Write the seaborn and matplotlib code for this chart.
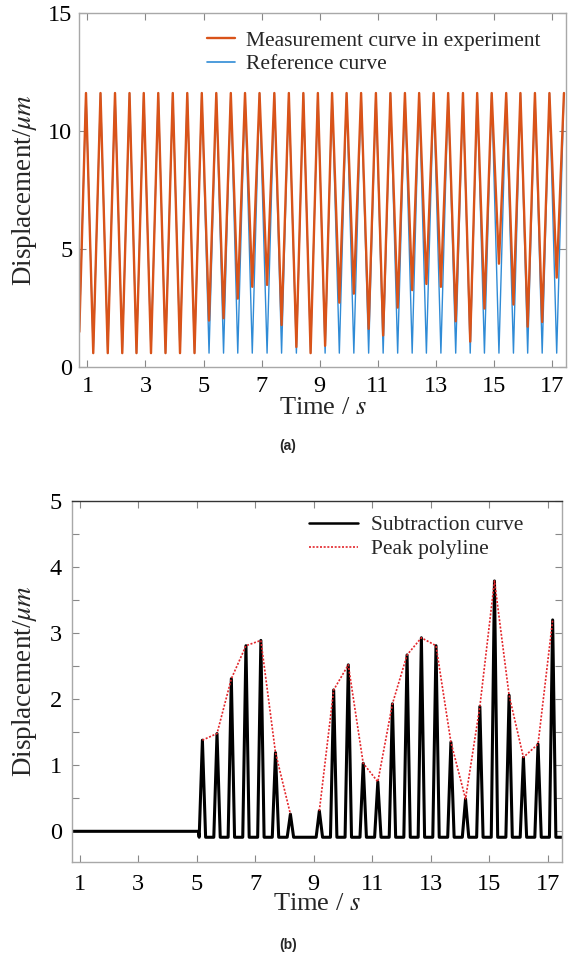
import numpy as np
import pandas as pd
import matplotlib
matplotlib.use("Agg")
import matplotlib.pyplot as plt
import seaborn as sns
from matplotlib.lines import Line2D
from matplotlib.ticker import MultipleLocator

# ---------------- data ----------------
trough_times = [1.20, 1.70, 2.20, 2.69, 3.19, 3.69, 4.19, 4.69, 5.19, 5.69, 6.18,
                6.68, 7.19, 7.69, 8.20, 8.69, 9.19, 9.68, 10.18, 10.69, 11.19, 11.69,
                12.19, 12.68, 13.18, 13.69, 14.19, 14.68, 15.18, 15.68, 16.17, 16.67, 17.17]
peak_times = [0.95, 1.45, 1.95, 2.45, 2.94, 3.44, 3.94, 4.44, 4.94, 5.44, 5.94, 6.43,
              6.93, 7.44, 7.94, 8.44, 8.94, 9.43, 9.93, 10.43, 10.94, 11.44, 11.94,
              12.43, 12.93, 13.43, 13.94, 14.43, 14.93, 15.43, 15.92, 16.42, 16.92, 17.42]
peak_level = 11.62
ref_trough_level = 0.60
start_time, start_level = 0.72, 1.50

# subtraction peaks (measurement trough - reference trough), one per trough
sub_peaks = [0, 0, 0, 0, 0, 0, 0, 0,
             1.38, 1.48, 2.31, 2.81, 2.89, 1.19, 0.26, 0.0, 0.31, 2.14, 2.52,
             1.03, 0.75, 1.93, 2.67, 2.93, 2.81, 1.35, 0.49, 1.89, 3.79, 2.06,
             1.12, 1.32, 3.20]
# peak polyline segments (indices into trough list)
poly_seg1 = list(range(8, 15))
poly_seg2 = list(range(16, 33))
quiet_end = 5.05
spike_halfwidth = 0.11
spike_base = -0.09

# ---------------- build curves ----------------
def build(trough_vals):
    xs, ys = [start_time], [start_level]
    for i, t in enumerate(trough_times):
        xs += [peak_times[i], t]
        ys += [peak_level, trough_vals[i]]
    xs.append(peak_times[-1]); ys.append(peak_level)
    return xs, ys

ref_x, ref_y = build([ref_trough_level] * len(trough_times))
meas_x, meas_y = build([ref_trough_level + h for h in sub_peaks])

sub_x, sub_y = [start_time, quiet_end], [0.0, 0.0]
for t, h in zip(trough_times, sub_peaks):
    if t > quiet_end and h > 0:
        sub_x += [t - spike_halfwidth, t, t + spike_halfwidth]
        sub_y += [spike_base, h, spike_base]
sub_x.append(17.48); sub_y.append(spike_base)

poly_df = pd.DataFrame({
    "t": [trough_times[i] for i in poly_seg1] + [trough_times[i] for i in poly_seg2],
    "v": [sub_peaks[i] for i in poly_seg1] + [sub_peaks[i] for i in poly_seg2],
    "seg": [1] * len(poly_seg1) + [2] * len(poly_seg2),
})

# ---------------- style ----------------
sns.set_style("ticks")
plt.rcParams["font.family"] = ["Liberation Serif", "DejaVu Serif"]
plt.rcParams["mathtext.fontset"] = "stix"

ORANGE = "#D95319"
BLUE = "#2F8BD6"
RED = "#E3262B"
SPINE = "#A8A8A8"

fig = plt.figure(figsize=(5.76, 9.6), dpi=100)
ax1 = fig.add_axes([0.1377, 0.6174, 0.8444, 0.3688])
ax2 = fig.add_axes([0.1245, 0.1024, 0.8507, 0.3757])

# ---- panel (a)
sns.lineplot(x=ref_x, y=ref_y, ax=ax1, color=BLUE, lw=1.0, sort=False, estimator=None)
sns.lineplot(x=meas_x, y=meas_y, ax=ax1, color=ORANGE, lw=1.7, sort=False, estimator=None)
ax1.set_xlim(0.72, 17.48)
ax1.set_ylim(0, 15)
ax1.set_xticks(range(1, 18, 2))
ax1.set_yticks([0, 5, 10, 15])
h1 = [Line2D([], [], color=ORANGE, lw=1.7), Line2D([], [], color=BLUE, lw=1.2)]
ax1.legend(h1, ["Measurement curve in experiment", "Reference curve"],
           loc="upper right", bbox_to_anchor=(0.965, 0.975), frameon=False,
           fontsize=15.5, handlelength=1.3, handletextpad=0.5, labelspacing=0.15,
           borderaxespad=0)

# ---- panel (b)
sns.lineplot(x=sub_x, y=sub_y, ax=ax2, color="black", lw=2.2, sort=False, estimator=None)
sns.lineplot(data=poly_df, x="t", y="v", units="seg", estimator=None, sort=False,
             ax=ax2, color=RED, lw=1.2, linestyle=(0, (1.2, 1.0)))
ax2.set_xlim(0.72, 17.48)
ax2.set_ylim(-0.46, 5)
ax2.set_xticks(range(1, 18, 2))
ax2.set_yticks([0, 1, 2, 3, 4, 5])
ax2.yaxis.set_minor_locator(MultipleLocator(0.5))
h2 = [Line2D([], [], color="black", lw=1.8),
      Line2D([], [], color=RED, lw=1.2, linestyle=(0, (1.2, 1.0)))]
ax2.legend(h2, ["Subtraction curve", "Peak polyline"],
           loc="upper right", bbox_to_anchor=(0.94, 0.985), frameon=False,
           fontsize=15.5, handlelength=2.3, handletextpad=0.6, labelspacing=0.2,
           borderaxespad=0)

for ax in (ax1, ax2):
    ax.tick_params(which="both", direction="in", top=True, right=True, length=5,
                   width=0.8, color="#888888", labelcolor="black", labelsize=17.5)
    ax.tick_params(axis="x", pad=6)
    for s in ax.spines.values():
        s.set_color(SPINE)
        s.set_linewidth(1.0)
    ax.set_xlabel("Time / $s$", fontsize=19)
    ax.set_ylabel("Displacement/$\\mu m$", fontsize=19.5)
ax1.tick_params(axis="y", pad=5)
ax2.tick_params(axis="y", pad=7)
ax2.spines["top"].set_color("#333333")
ax2.tick_params(axis="x", pad=9)

ax1.yaxis.set_label_coords(-0.083, 0.5)
ax2.yaxis.set_label_coords(-0.066, 0.5)
ax1.xaxis.set_label_coords(0.5, -0.083)
ax2.xaxis.set_label_coords(0.5, -0.088)

fig.text(0.5, 1 - 446 / 960, "(a)", ha="center", va="center", fontsize=10,
         fontweight="bold", family=["Liberation Sans", "DejaVu Sans"])
fig.text(0.5, 1 - 945 / 960, "(b)", ha="center", va="center", fontsize=10,
         fontweight="bold", family=["Liberation Sans", "DejaVu Sans"])

fig.savefig("out.png", dpi=100)
